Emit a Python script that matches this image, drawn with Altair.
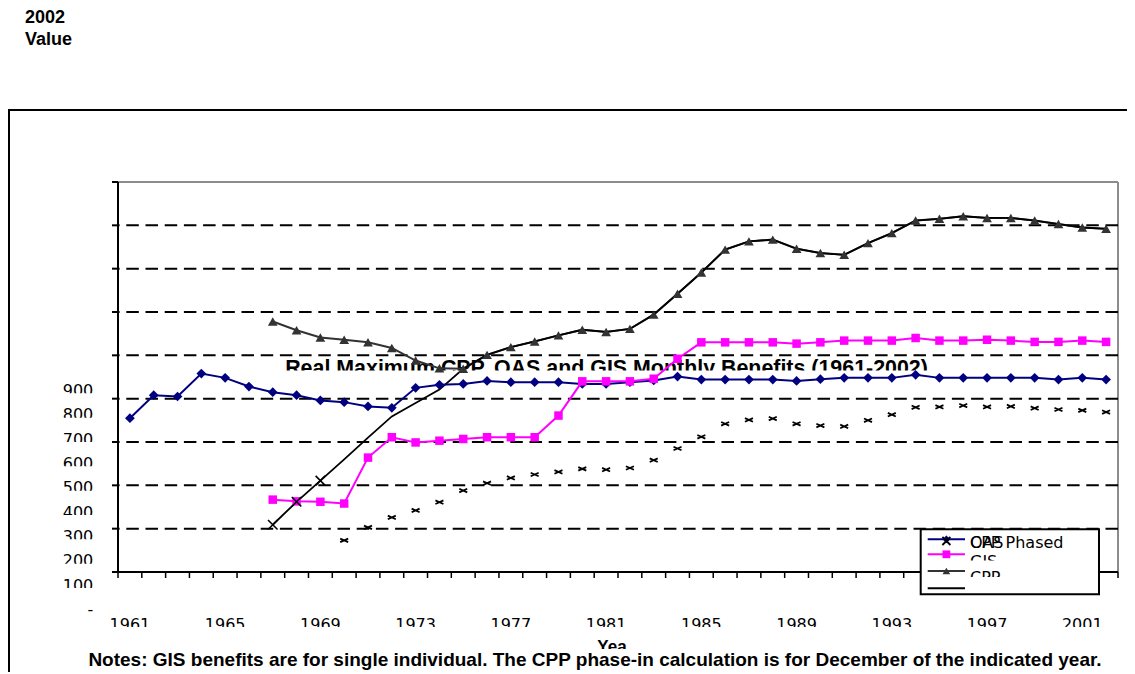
import altair as alt
import pandas as pd

# ---------------- data ----------------
YEARS = list(range(1961, 2003))

OAS = [355, 408, 405, 458, 448, 428, 415, 408, 396, 392, 382, 379, 425, 432,
       434, 441, 438, 438, 438, 434, 434, 438, 442, 451, 444, 444, 444, 444,
       441, 445, 448, 448, 448, 455, 448, 448, 448, 448, 448, 444, 448, 444]

# the following series start in 1967
GIS = [167, 163, 162, 158, 264, 311, 299, 303, 307, 311, 311, 311, 361, 440,
       440, 440, 446, 492, 530, 530, 530, 530, 527, 530, 534, 534, 534, 540,
       534, 534, 536, 534, 531, 531, 534, 531]

CPP = [578, 558, 541, 536, 530, 517, 488, 470, 469, 501, 519, 532, 546, 559,
       554, 561, 594, 642, 691, 744, 763, 767, 746, 736, 732, 759, 782, 811,
       815, 821, 817, 817, 811, 803, 795, 792]

CPP_LINE = [109, 162, 211, 260, 310, 359, 390, 421, 469, 501, 519, 532, 546,
            559, 554, 561, 594, 642, 691, 744, 763, 767, 746, 736, 732, 759,
            782, 811, 815, 821, 817, 817, 811, 803, 795, 792]

CPP_PHASED = [109, 162, 211, 73, 103, 126, 142, 161, 188, 205, 217, 225, 231,
              238, 236, 240, 258, 285, 312, 342, 351, 354, 342, 338, 336, 350,
              363, 380, 381, 384, 381, 382, 378, 375, 373, 369]

GRID_VALUES = [100, 200, 300, 400, 500, 600, 700, 800]
Y_TICKS = [0, 100, 200, 300, 400, 500, 600, 700, 800, 900]
X_TICKS = [1960.5 + i for i in range(43)]          # category boundaries
Y_LABEL_VALUES = [900, 800, 700, 600, 500, 400, 300, 200, 100, 0]
Y_LABEL_TEXT = ["900", "800", "700", "600", "500", "400", "300", "200", "100", "-"]
X_LABEL_YEARS = [1961, 1965, 1969, 1973, 1977, 1981, 1985, 1989, 1993, 1997, 2001]

TITLE = "Real Maximum CPP, OAS and GIS Monthly Benefits (1961-2002)"
NOTES = ("Notes: GIS benefits are for single individual. The CPP phase-in "
         "calculation is for December of the indicated year.")

LEGEND_LABELS = ["OAS", "GIS", "CPP", ""]
LEGEND_COLORS = ["#000080", "#FF00FF", "#333333", "#000000"]
LEGEND_SHAPES = ["diamond", "square", "triangle-up", ""]

# ---------------- tables ----------------
def pad(vals):
    return [None] * (len(YEARS) - len(vals)) + vals

df = pd.DataFrame({
    "year": YEARS,
    "OAS": OAS,
    "GIS": pad(GIS),
    "CPP": pad(CPP),
    "CPPL": pad(CPP_LINE),
    "PH": pad(CPP_PHASED),
})
grid_df = pd.DataFrame({"v": GRID_VALUES})
yt_df = pd.DataFrame({"v": Y_TICKS})
xt_df = pd.DataFrame({"v": X_TICKS})
ylab_df = pd.DataFrame({"v": Y_LABEL_VALUES, "t": Y_LABEL_TEXT})
xlab_df = pd.DataFrame({"year": X_LABEL_YEARS, "t": [str(y) for y in X_LABEL_YEARS]})
one = pd.DataFrame({"k": [0]})

LEG_ROW_Y = [357.3, 372.3, 389.0, 406.3]
LEG_TEXT_Y = [366.4, 384.7, 401.4, 418.0]
leg_df = pd.DataFrame({
    "label": LEGEND_LABELS, "color": LEGEND_COLORS, "shape": LEGEND_SHAPES,
    "ly": LEG_ROW_Y, "ty": LEG_TEXT_Y,
})

# ---------------- scales ----------------
W, H = 1000, 390
xs = alt.Scale(domain=[1960.5, 2002.5], nice=False, zero=False)
ys = alt.Scale(domain=[0, 900], nice=False, zero=False)

X = alt.X("year:Q", scale=xs, axis=None)

TICK_FONT = "DejaVu Sans"
BOLD_FONT = "Liberation Sans"

# ---------------- decoration ----------------
frame = alt.Chart(one).mark_rect(filled=False, stroke="black",
                                 strokeWidth=2).encode(
    x=alt.value(-109), x2=alt.value(1040), y=alt.value(-72), y2=alt.value(520))

plot_top = alt.Chart(one).mark_rule(color="#8c8c8c", strokeWidth=2).encode(
    x=alt.value(0), x2=alt.value(W), y=alt.value(0))
plot_right = alt.Chart(one).mark_rule(color="#8c8c8c", strokeWidth=2).encode(
    x=alt.value(W), y=alt.value(0), y2=alt.value(H))

top_text1 = alt.Chart(one).mark_text(text="2002", font=BOLD_FONT, fontSize=18,
                                     fontWeight="bold", align="left",
                                     baseline="alphabetic").encode(
    x=alt.value(-93), y=alt.value(-159))
top_text2 = alt.Chart(one).mark_text(text="Value", font=BOLD_FONT, fontSize=18,
                                     fontWeight="bold", align="left",
                                     baseline="alphabetic").encode(
    x=alt.value(-93), y=alt.value(-137))

grid = alt.Chart(grid_df).mark_rule(color="black", strokeWidth=2,
                                    strokeDash=[12.5, 6.7]).encode(
    y=alt.Y("v:Q", scale=ys, axis=None))

title_text = alt.Chart(one).mark_text(text=TITLE, font=BOLD_FONT, fontSize=21.4,
                                      fontWeight="bold", align="center",
                                      baseline="alphabetic").encode(
    x=alt.value(488.5), y=alt.value(193))
title_mask = alt.Chart(one).mark_rect(color="white").encode(
    x=alt.value(150), x2=alt.value(830), y=alt.value(188.5), y2=alt.value(199))

# ---------------- data layers ----------------
base = alt.Chart(df)

oas_line = base.mark_line(color="#000080", strokeWidth=2).encode(
    x=X, y=alt.Y("OAS:Q", scale=ys, axis=None))
oas_pts = base.mark_point(shape="diamond", filled=True, size=95, color="#000080",
                          opacity=1).encode(x=X, y=alt.Y("OAS:Q", scale=ys, axis=None))

cpp_line = base.mark_line(color="#333333", strokeWidth=2).encode(
    x=X, y=alt.Y("CPP:Q", scale=ys, axis=None))
cpp_pts = base.mark_point(shape="triangle-up", filled=True, size=95, color="#333333",
                          opacity=1).encode(x=X, y=alt.Y("CPP:Q", scale=ys, axis=None))
black_line = base.mark_line(color="black", strokeWidth=1.8).encode(
    x=X, y=alt.Y("CPPL:Q", scale=ys, axis=None))

gis_line = base.mark_line(color="#FF00FF", strokeWidth=2).encode(
    x=X, y=alt.Y("GIS:Q", scale=ys, axis=None))
gis_pts = base.mark_point(shape="square", filled=True, size=72, color="#FF00FF",
                          opacity=1).encode(x=X, y=alt.Y("GIS:Q", scale=ys, axis=None))

ph_big = base.transform_filter("datum.year <= 1969").mark_point(
    shape="M-1,-1L1,1M-1,1L1,-1", filled=False, size=90, color="black",
    strokeWidth=1.6, opacity=1).encode(x=X, y=alt.Y("PH:Q", scale=ys, axis=None))
ph_small = base.transform_filter("datum.year > 1969").mark_point(
    shape="M-1,-0.45L1,0.45M-1,0.45L1,-0.45", filled=False, size=64, color="black",
    strokeWidth=1.8, opacity=1).encode(x=X, y=alt.Y("PH:Q", scale=ys, axis=None))

# ---------------- axes (drawn through the same scales) ----------------
y_domain = alt.Chart(one).mark_rule(color="black", strokeWidth=2).encode(
    x=alt.value(0), y=alt.value(0), y2=alt.value(H + 1))
x_domain = alt.Chart(one).mark_rule(color="black", strokeWidth=2).encode(
    x=alt.value(-6), x2=alt.value(W), y=alt.value(H))
y_ticks = alt.Chart(yt_df).mark_rule(color="black", strokeWidth=2).encode(
    y=alt.Y("v:Q", scale=ys, axis=None), x=alt.value(-6), x2=alt.value(0))
x_ticks = alt.Chart(xt_df).mark_rule(color="black", strokeWidth=1.5).encode(
    x=alt.X("v:Q", scale=xs, axis=None), y=alt.value(H), y2=alt.value(H + 6))

# ---------------- tick labels (misplaced as in the picture) ----------------
xlabels = alt.Chart(xlab_df).mark_text(font=TICK_FONT, fontSize=16, align="center",
                                       baseline="alphabetic").encode(
    x=X, y=alt.value(447.7), text="t:N")
xlab_mask = alt.Chart(one).mark_rect(color="white").encode(
    x=alt.value(-20), x2=alt.value(1010), y=alt.value(445), y2=alt.value(456))

ylab_base = alt.Chart(ylab_df).transform_calculate(py="433 - datum.v * 0.2433")
ylabels = ylab_base.mark_text(font=TICK_FONT, fontSize=16, align="right",
                              baseline="alphabetic").encode(
    x=alt.value(-24.7), y=alt.Y("py:Q", scale=None), text="t:N")
ylab_mask = ylab_base.transform_filter("datum.v > 0").mark_rect(
    color="white", yOffset=-2.7, y2Offset=5).encode(
    x=alt.value(-70), x2=alt.value(-15),
    y=alt.Y("py:Q", scale=None), y2="py:Q")

xtitle = alt.Chart(one).mark_text(text="Yea", font=BOLD_FONT, fontSize=17,
                                  fontWeight="bold", align="center",
                                  baseline="alphabetic").encode(
    x=alt.value(494), y=alt.value(470))
xtitle_mask = alt.Chart(one).mark_rect(color="white").encode(
    x=alt.value(470), x2=alt.value(520), y=alt.value(467), y2=alt.value(472))

# ---------------- legend (glitched, as in the picture) ----------------
leg_box = alt.Chart(one).mark_rect(fill="white", stroke="black", strokeWidth=2).encode(
    x=alt.value(802.7), x2=alt.value(981), y=alt.value(347.3), y2=alt.value(412.3))
leg = alt.Chart(leg_df)
leg_lines = leg.mark_rule(strokeWidth=2).encode(
    x=alt.value(809.7), x2=alt.value(847), y=alt.Y("ly:Q", scale=None),
    color=alt.Color("color:N", scale=None))
leg_pts = leg.transform_filter("datum.shape != ''").mark_point(
    filled=True, size=60, opacity=1).encode(
    x=alt.value(828.4), y=alt.Y("ly:Q", scale=None),
    shape=alt.Shape("shape:N", scale=None), color=alt.Color("color:N", scale=None))
leg_x = alt.Chart(one).mark_point(shape="M-1,-1L1,1M-1,1L1,-1", filled=False,
                                  size=64, color="black", strokeWidth=1.8,
                                  opacity=1).encode(
    x=alt.value(828.4), y=alt.value(359))
leg_text = leg.mark_text(font=TICK_FONT, fontSize=16, align="left",
                         baseline="alphabetic", color="black").encode(
    x=alt.value(852), y=alt.Y("ty:Q", scale=None), text="label:N")
leg_text2 = alt.Chart(one).mark_text(text="CPP Phased", font=TICK_FONT, fontSize=16,
                                     align="left", baseline="alphabetic",
                                     color="black").encode(
    x=alt.value(852), y=alt.value(366.4))
leg_mask2 = alt.Chart(one).mark_rect(color="white").encode(
    x=alt.value(850), x2=alt.value(910), y=alt.value(378.5), y2=alt.value(388))
leg_mask3 = alt.Chart(one).mark_rect(color="white").encode(
    x=alt.value(850), x2=alt.value(910), y=alt.value(395), y2=alt.value(404))

notes = alt.Chart(one).mark_text(text=NOTES, font=BOLD_FONT, fontSize=19,
                                 fontWeight="bold", align="center",
                                 baseline="alphabetic").encode(
    x=alt.value(477), y=alt.value(484))

chart = alt.layer(
    frame, plot_top, plot_right, top_text1, top_text2, grid, title_text, title_mask,
    cpp_line, black_line, cpp_pts, oas_line, oas_pts, gis_line, gis_pts,
    ph_big, ph_small,
    y_domain, x_domain, y_ticks, x_ticks,
    xlabels, xlab_mask, ylabels, ylab_mask, xtitle, xtitle_mask,
    leg_box, leg_lines, leg_pts, leg_x, leg_text, leg_text2, leg_mask2, leg_mask3,
    notes,
).properties(
    width=W, height=H,
    autosize=alt.AutoSizeParams(type="none"),
    padding={"left": 110, "top": 174, "right": 9, "bottom": 100},
).configure_view(
    strokeWidth=0,
).configure(background="white")

chart.save("out.html", embed_options={"renderer": "svg", "actions": False})
